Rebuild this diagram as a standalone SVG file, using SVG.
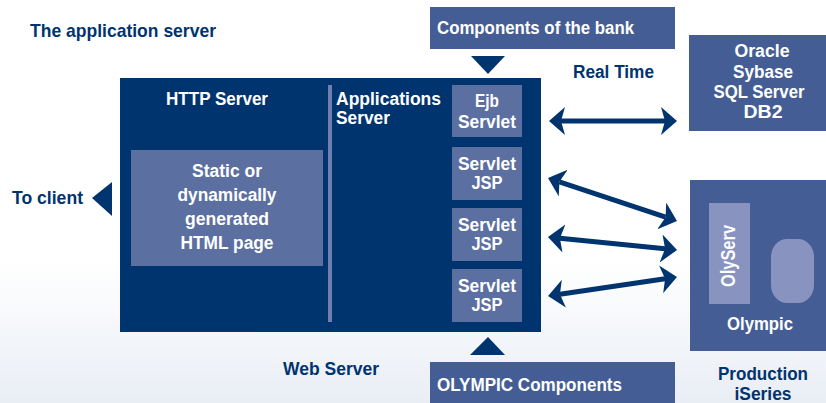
<svg xmlns="http://www.w3.org/2000/svg" width="826" height="403" viewBox="0 0 826 403">
<defs>
<linearGradient id="bg" x1="0" y1="0" x2="0" y2="1">
<stop offset="0" stop-color="#ffffff"/>
<stop offset="0.65" stop-color="#ffffff"/>
<stop offset="1" stop-color="#e9eef5"/>
</linearGradient>
<marker id="ah" viewBox="0 -14 16 28" refX="4" refY="0" markerWidth="16" markerHeight="28" markerUnits="userSpaceOnUse" orient="auto-start-reverse">
<path d="M0,-14 L16,0 L0,14 L4,0 Z" fill="#00346f"/>
</marker>
</defs>
<style>
text{font-family:"Liberation Sans",Arial,sans-serif;font-weight:bold;font-size:18px}
.dk{fill:#00346f}
.wt{fill:#ffffff}
.mid{fill:#445e95}
.inner{fill:#5b6fa1}
.c{text-anchor:middle}
.conn line{stroke:#00346f;stroke-width:5}
</style>
<rect x="0" y="0" width="826" height="403" fill="url(#bg)"/>

<g id="title"><text x="30" y="37" class="dk" style="font-size:19px" textLength="186" lengthAdjust="spacingAndGlyphs">The application server</text></g>

<g id="main">
<rect x="120" y="78" width="421" height="254" fill="#00346f"/>
<rect x="328" y="85" width="4" height="237" fill="#6f80b0"/>
<text x="166" y="105" class="wt" textLength="102" lengthAdjust="spacingAndGlyphs">HTTP Server</text>
<text x="336" y="105" class="wt" textLength="105" lengthAdjust="spacingAndGlyphs">Applications</text>
<text x="336" y="124" class="wt" textLength="54" lengthAdjust="spacingAndGlyphs">Server</text>
</g>

<g id="html-page">
<rect x="131" y="150" width="192" height="116" class="inner"/>
<text x="227" y="177" class="wt c" textLength="70" lengthAdjust="spacingAndGlyphs">Static or</text>
<text x="227" y="201" class="wt c" textLength="99" lengthAdjust="spacingAndGlyphs">dynamically</text>
<text x="227" y="225" class="wt c" textLength="84" lengthAdjust="spacingAndGlyphs">generated</text>
<text x="227" y="249" class="wt c" textLength="93" lengthAdjust="spacingAndGlyphs">HTML page</text>
</g>

<g id="ejb">
<rect x="452" y="85" width="70" height="52" class="inner"/>
<text x="487" y="107" class="wt c" textLength="24" lengthAdjust="spacingAndGlyphs">Ejb</text>
<text x="487" y="128" class="wt c" textLength="58" lengthAdjust="spacingAndGlyphs">Servlet</text>
</g>
<g id="servlet1">
<rect x="452" y="147" width="70" height="53" class="inner"/>
<text x="487" y="170" class="wt c" textLength="58" lengthAdjust="spacingAndGlyphs">Servlet</text>
<text x="487" y="189" class="wt c" textLength="31" lengthAdjust="spacingAndGlyphs">JSP</text>
</g>
<g id="servlet2">
<rect x="452" y="208" width="70" height="53" class="inner"/>
<text x="487" y="231" class="wt c" textLength="58" lengthAdjust="spacingAndGlyphs">Servlet</text>
<text x="487" y="250" class="wt c" textLength="31" lengthAdjust="spacingAndGlyphs">JSP</text>
</g>
<g id="servlet3">
<rect x="452" y="269" width="70" height="53" class="inner"/>
<text x="487" y="292" class="wt c" textLength="58" lengthAdjust="spacingAndGlyphs">Servlet</text>
<text x="487" y="311" class="wt c" textLength="31" lengthAdjust="spacingAndGlyphs">JSP</text>
</g>

<g id="bank">
<rect x="430" y="7" width="245" height="42" class="mid"/>
<text x="437" y="34" class="wt" textLength="197" lengthAdjust="spacingAndGlyphs">Components of the bank</text>
<polygon points="471,56 505,56 488,74" fill="#00346f"/>
</g>

<g id="olympic-components">
<rect x="430" y="362" width="245" height="41" class="mid"/>
<text x="437" y="391" class="wt" textLength="185" lengthAdjust="spacingAndGlyphs">OLYMPIC Components</text>
<polygon points="470,355 505,355 488,337" fill="#00346f"/>
</g>

<g id="databases">
<rect x="689" y="35" width="137" height="96" class="mid"/>
<text x="762" y="57" class="wt c" textLength="55" lengthAdjust="spacingAndGlyphs">Oracle</text>
<text x="763" y="78" class="wt c" textLength="60" lengthAdjust="spacingAndGlyphs">Sybase</text>
<text x="759" y="98" class="wt c" textLength="91" lengthAdjust="spacingAndGlyphs">SQL Server</text>
<text x="763" y="118" class="wt c" textLength="39" lengthAdjust="spacingAndGlyphs">DB2</text>
</g>

<g id="olympic">
<rect x="690" y="180" width="136" height="171" class="mid"/>
<rect x="709" y="203" width="41" height="101" fill="#8893c0"/>
<text transform="translate(735,256) rotate(-90)" x="0" y="0" class="wt c" style="font-size:21px" textLength="62" lengthAdjust="spacingAndGlyphs">OlyServ</text>
<rect x="771" y="239" width="43" height="64" rx="16" ry="18" fill="#8893c0"/>
<text x="760" y="330" class="wt c" textLength="66" lengthAdjust="spacingAndGlyphs">Olympic</text>
</g>

<g id="labels">
<text x="573" y="78" class="dk" textLength="81" lengthAdjust="spacingAndGlyphs">Real Time</text>
<text x="12" y="204" class="dk" textLength="71" lengthAdjust="spacingAndGlyphs">To client</text>
<polygon points="92,198 112,182 112,216" fill="#00346f"/>
<text x="283" y="375" class="dk" textLength="96" lengthAdjust="spacingAndGlyphs">Web Server</text>
<text x="763" y="380" class="dk c" textLength="90" lengthAdjust="spacingAndGlyphs">Production</text>
<text x="763" y="400" class="dk c" textLength="57" lengthAdjust="spacingAndGlyphs">iSeries</text>
</g>

<g id="connectors" class="conn">
<line x1="561" y1="121" x2="665" y2="121" marker-start="url(#ah)" marker-end="url(#ah)"/>
<line x1="559.4" y1="181.8" x2="665.6" y2="217.2" marker-start="url(#ah)" marker-end="url(#ah)"/>
<line x1="559.9" y1="238.2" x2="665.1" y2="248.8" marker-start="url(#ah)" marker-end="url(#ah)"/>
<line x1="559.9" y1="294.25" x2="665.1" y2="278.75" marker-start="url(#ah)" marker-end="url(#ah)"/>
</g>
</svg>
